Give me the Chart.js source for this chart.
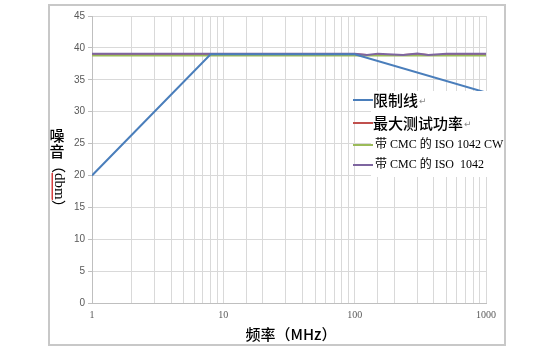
<!DOCTYPE html>
<html>
<head>
<meta charset="utf-8">
<script src="https://cdn.jsdelivr.net/npm/chart.js@4.4.0/dist/chart.umd.min.js"></script>
<style>
html,body{margin:0;padding:0;background:#fff;}
#wrap{position:relative;width:560px;height:350px;}
</style>
</head>
<body>
<div id="wrap"><canvas id="c" width="560" height="350"></canvas></div>
<script>
// ---- data ----
const seriesNames = ['限制线', '最大测试功率', '带 CMC 的 ISO 1042 CW', '带 CMC 的 ISO  1042'];
const limitFreq = [1, 8, 100, 1000];
const limitVal  = [20, 39, 39, 33];
const testFreq  = [1, 2, 3, 5, 7, 10, 20, 30, 50, 70, 100, 124, 150, 234, 300, 363, 500, 700, 1000];
const maxPower  = [38.9, 38.9, 39.0, 38.9, 38.9, 39.0, 38.9, 38.9, 39.0, 38.9, 39.0, 38.9, 38.9, 38.9, 39.0, 38.9, 38.9, 38.9, 39.0];
const isoCW     = [38.8, 38.8, 38.8, 38.8, 38.8, 38.8, 38.8, 38.8, 38.8, 38.8, 38.8, 38.8, 38.8, 38.8, 38.8, 38.8, 38.8, 38.8, 38.8];
const isoAM     = [39.1, 39.1, 39.1, 39.1, 39.1, 39.1, 39.1, 39.1, 39.1, 39.1, 39.1, 38.9, 39.1, 38.9, 39.1, 38.9, 39.1, 39.1, 39.1];
const yTicks    = [0, 5, 10, 15, 20, 25, 30, 35, 40, 45];
const xMajor    = [1, 10, 100, 1000];
const colors    = ['#4A7EBB', '#C0504D', '#9BBB59', '#7E65A0'];

const pts = (xs, ys) => xs.map((x, i) => ({x: x, y: ys[i]}));

const overlay = {
  id: 'overlay',
  beforeDraw(chart) {
    const ctx = chart.ctx;
    ctx.save();
    ctx.fillStyle = '#fff';
    ctx.fillRect(0, 0, chart.width, chart.height);
    ctx.strokeStyle = '#c8c8c8';
    ctx.lineWidth = 2;
    ctx.strokeRect(49, 5, 456, 340);
    ctx.restore();
  },
  afterDatasetsDraw(chart) {
    const ctx = chart.ctx;
    ctx.save();
    // legend box
    ctx.fillStyle = '#fff';
    ctx.fillRect(371, 91, 133, 86);
    const rows = [100, 123, 145, 165];
    seriesNames.forEach((name, i) => {
      const y = rows[i];
      ctx.strokeStyle = colors[i];
      ctx.lineWidth = 2;
      ctx.beginPath();
      ctx.moveTo(353, y);
      ctx.lineTo(373, y);
      ctx.stroke();
      ctx.fillStyle = '#000';
      ctx.textBaseline = 'middle';
      ctx.textAlign = 'left';
      if (i < 2) {
        ctx.font = '500 15px "Noto Sans CJK SC"';
        ctx.fillText(name, 373, y);
        const w = ctx.measureText(name).width;
        ctx.fillStyle = '#888';
        ctx.font = '9px "DejaVu Sans"';
        ctx.fillText('↵', 373 + w + 1, y + 2);
      } else {
        ctx.font = '12px "Liberation Serif", "Noto Sans CJK SC"';
        ctx.fillText(name, 375, y);
      }
    });
    ctx.restore();
  },
  afterDraw(chart) {
    const ctx = chart.ctx;
    ctx.save();
    ctx.fillStyle = '#000';
    ctx.font = '500 15px "Noto Sans CJK SC"';
    ctx.textAlign = 'center';
    ctx.textBaseline = 'middle';
    // x title
    ctx.fillText('频率（MHz）', 291, 334);
    // y title (vertical)
    ctx.fillText('噪', 57, 135);
    ctx.fillText('音', 57, 151);
    ctx.translate(57, 159);
    ctx.rotate(Math.PI / 2);
    ctx.textAlign = 'left';
    ctx.textBaseline = 'alphabetic';
    ctx.font = '500 14px "Noto Sans CJK SC"';
    ctx.fillText('（', 0, 3);
    ctx.font = '15px "Liberation Serif"';
    ctx.fillText('dbm', 14, 2);
    const dw = ctx.measureText('dbm').width;
    ctx.font = '500 14px "Noto Sans CJK SC"';
    ctx.fillText('）', 14 + dw, 3);
    // spell-check wavy underline under "dbm"
    ctx.strokeStyle = '#d02020';
    ctx.lineWidth = 1;
    ctx.beginPath();
    for (let t = 0; t <= Math.round(dw); t += 1) {
      const yy = 4 + (t % 2 === 0 ? 0 : 1.5);
      if (t === 0) ctx.moveTo(14 + t, yy); else ctx.lineTo(14 + t, yy);
    }
    ctx.stroke();
    ctx.restore();
  }
};

new Chart(document.getElementById('c'), {
  type: 'line',
  data: {
    datasets: [
      {label: seriesNames[0], data: pts(limitFreq, limitVal), borderColor: colors[0], borderWidth: 2, pointRadius: 0, order: 0},
      {label: seriesNames[1], data: pts(testFreq, maxPower), borderColor: colors[1], borderWidth: 2, pointRadius: 0, order: 3},
      {label: seriesNames[2], data: pts(testFreq, isoCW), borderColor: colors[2], borderWidth: 2, pointRadius: 0, order: 2},
      {label: seriesNames[3], data: pts(testFreq, isoAM), borderColor: colors[3], borderWidth: 2, pointRadius: 0, order: 1}
    ]
  },
  options: {
    responsive: false,
    animation: false,
    layout: {padding: {left: 50, right: 74, top: 16, bottom: 0}},
    plugins: {legend: {display: false}, tooltip: {enabled: false}},
    scales: {
      x: {
        type: 'logarithmic',
        min: 1, max: 1000,
        afterFit: s => { s.height = 47; },
        grid: {color: '#d9d9d9', lineWidth: 1, drawTicks: false},
        border: {color: '#bfbfbf'},
        ticks: {
          autoSkip: false, maxRotation: 0, padding: 6,
          color: '#595959',
          font: {family: '"Liberation Serif"', size: 10},
          callback: v => xMajor.includes(v) ? String(v) : ''
        }
      },
      y: {
        min: 0, max: 45,
        afterFit: s => { s.width = 42; },
        afterBuildTicks: s => { s.ticks = yTicks.map(v => ({value: v})); },
        grid: {color: '#d9d9d9', lineWidth: 1, tickLength: 4, tickColor: '#bfbfbf'},
        border: {color: '#bfbfbf'},
        ticks: {
          color: '#595959', padding: 3,
          font: {family: '"Liberation Sans"', size: 10}
        }
      }
    }
  },
  plugins: [overlay]
});
</script>
</body>
</html>
